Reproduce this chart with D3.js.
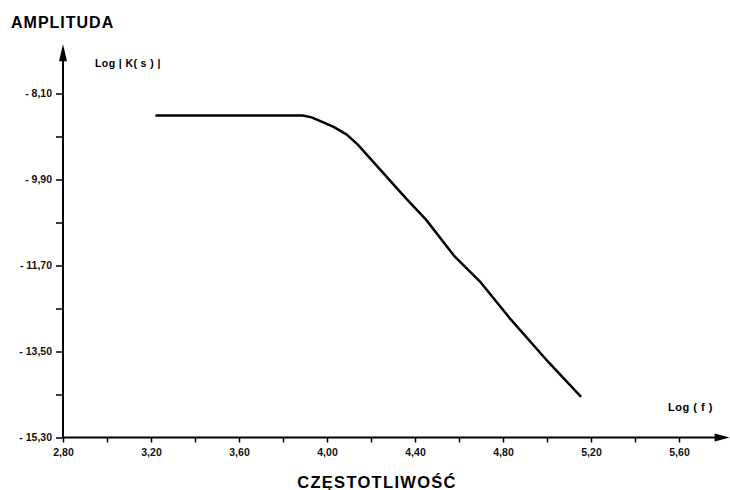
<!DOCTYPE html>
<html>
<head>
<meta charset="utf-8">
<script src="https://cdn.jsdelivr.net/npm/d3@7"></script>
<style>
  body { margin: 0; background: #fff; }
  svg { display: block; font-family: "Liberation Sans", Arial, sans-serif; }
  .tick text { font-size: 10.5px; font-weight: bold; fill: #111; }
  .tick line { stroke: #000; stroke-width: 1.5; }
</style>
</head>
<body>
<svg id="chart" width="730" height="490"></svg>
<script>
// tick values and labels
var xTicks = [2.8, 3.0, 3.2, 3.4, 3.6, 3.8, 4.0, 4.2, 4.4, 4.6, 4.8, 5.0, 5.2, 5.4, 5.6];
var xTickLabels = ["2,80", "", "3,20", "", "3,60", "", "4,00", "", "4,40", "", "4,80", "", "5,20", "", "5,60"];
var yTicks = [-15.3, -14.4, -13.5, -12.6, -11.7, -10.8, -9.9, -9.0, -8.1];
var yTickLabels = ["- 15,30", "", "- 13,50", "", "- 11,70", "", "- 9,90", "", "- 8,10"];

// amplitude curve: log(f) vs log|K(s)|
var logF = [3.22, 3.50, 3.89, 3.93, 3.97, 4.03, 4.09, 4.14, 4.36, 4.45, 4.58, 4.70, 4.83, 5.01, 5.155];
var logK = [-8.56, -8.56, -8.56, -8.60, -8.68, -8.80, -8.96, -9.17, -10.30, -10.74, -11.51, -12.06, -12.80, -13.74, -14.45];

var svg = d3.select("#chart");

var x = d3.scaleLinear().domain([2.8, 5.6]).range([63, 679]);
var y = d3.scaleLinear().domain([-15.3, -8.1]).range([437.5, 93.5]);

var xEnd = 5.83,   // arrow tips, a bit past the last tick
    yEnd = -7.07;

// x axis
var xAxis = svg.append("g")
    .attr("transform", "translate(0," + y(-15.3) + ")")
    .call(d3.axisBottom(x)
        .tickValues(xTicks)
        .tickSize(5)
        .tickPadding(6)
        .tickSizeOuter(0)
        .tickFormat(function(d, i) { return xTickLabels[i]; }));
xAxis.select(".domain").remove();

// y axis
var yAxis = svg.append("g")
    .attr("transform", "translate(" + x(2.8) + ",0)")
    .call(d3.axisLeft(y)
        .tickValues(yTicks)
        .tickSize(7)
        .tickPadding(4)
        .tickSizeOuter(0)
        .tickFormat(function(d, i) { return yTickLabels[i]; }));
yAxis.select(".domain").remove();

// axis lines with arrow heads
svg.append("line")
    .attr("x1", x(2.8)).attr("y1", y(-15.3))
    .attr("x2", x(xEnd) - 10).attr("y2", y(-15.3))
    .attr("stroke", "#000").attr("stroke-width", 2);
svg.append("path")
    .attr("d", d3.line()([[x(xEnd), y(-15.3)], [x(xEnd) - 15, y(-15.3) - 4], [x(xEnd) - 15, y(-15.3) + 4]]) + "Z")
    .attr("fill", "#000");

svg.append("line")
    .attr("x1", x(2.8)).attr("y1", y(-15.3))
    .attr("x2", x(2.8)).attr("y2", y(yEnd) + 10)
    .attr("stroke", "#000").attr("stroke-width", 2);
svg.append("path")
    .attr("d", d3.line()([[x(2.8), y(yEnd)], [x(2.8) - 4, y(yEnd) + 17], [x(2.8) + 4, y(yEnd) + 17]]) + "Z")
    .attr("fill", "#000");

// the curve
var points = logF.map(function(f, i) { return [f, logK[i]]; });
svg.append("path")
    .datum(points)
    .attr("fill", "none")
    .attr("stroke", "#000")
    .attr("stroke-width", 2.5)
    .attr("stroke-linejoin", "round")
    .attr("d", d3.line()
        .x(function(d) { return x(d[0]); })
        .y(function(d) { return y(d[1]); }));

// titles
svg.append("text")
    .attr("x", 11).attr("y", 28)
    .attr("font-size", 16).attr("font-weight", "bold")
    .attr("letter-spacing", 1)
    .text("AMPLITUDA");
svg.append("text")
    .attr("x", 95).attr("y", 67)
    .attr("font-size", 10.5).attr("font-weight", "bold")
    .attr("letter-spacing", 0.4)
    .text("Log | K( s ) |");
svg.append("text")
    .attr("x", 668).attr("y", 411)
    .attr("font-size", 11).attr("font-weight", "bold")
    .attr("letter-spacing", 0.5)
    .text("Log ( f )");
svg.append("text")
    .attr("x", 377).attr("y", 488)
    .attr("text-anchor", "middle")
    .attr("font-size", 16.5).attr("font-weight", "bold")
    .attr("letter-spacing", 1.3)
    .text("CZĘSTOTLIWOŚĆ");
</script>
</body>
</html>
